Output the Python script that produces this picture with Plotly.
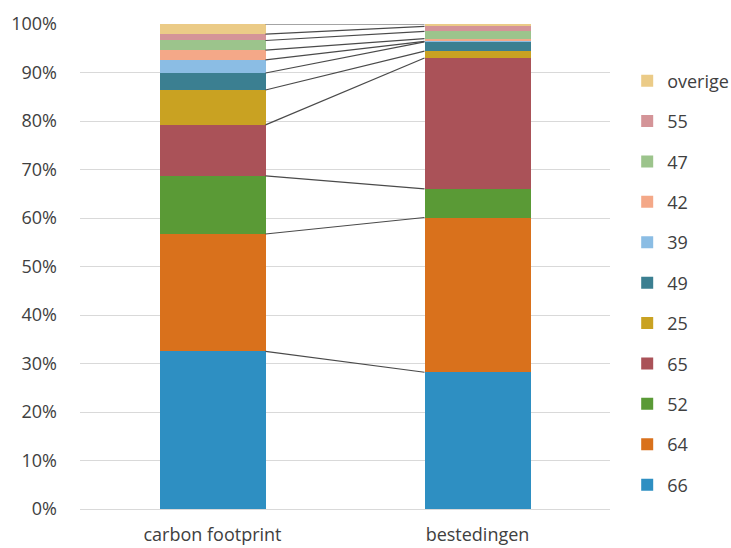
import numpy as np
import plotly.graph_objects as go

# Share of each group (percent) in the two totals
categories = ["carbon footprint", "bestedingen"]
groups = ["66", "64", "52", "65", "25", "49", "39", "42", "47", "55", "overige"]
carbon_footprint = [32.5, 24.2, 12.0, 10.5, 7.2, 3.5, 2.7, 2.0, 2.0, 1.3, 2.1]
bestedingen = [28.2, 31.9, 5.9, 27.0, 1.4, 1.9, 0.1, 0.6, 1.5, 1.0, 0.5]
colors = ["#2E8FC2", "#D9711C", "#5A9A36", "#AA5258", "#C9A222", "#3B7F91",
          "#8BBDE4", "#F4A888", "#9CC48C", "#D49498", "#EBCB87"]

bar_width = 0.4
xpos = np.arange(len(categories))
font_family = "'Open Sans', Lato, sans-serif"
text_color = "#404040"

fig = go.Figure()
for i, g in enumerate(groups):
    fig.add_trace(go.Bar(
        x=xpos,
        y=[carbon_footprint[i] / 100, bestedingen[i] / 100],
        name=g,
        marker=dict(color=colors[i], line=dict(width=0)),
        width=bar_width,
        legendgroup=g,
        legendrank=len(groups) - i,  # top segment listed first
    ))

# Series lines joining the top of each segment across the two bars
cum_left = np.cumsum(carbon_footprint) / 100
cum_right = np.cumsum(bestedingen) / 100
for yl, yr in zip(cum_left, cum_right):
    fig.add_trace(go.Scatter(
        x=[xpos[0] + bar_width / 2, xpos[1] - bar_width / 2],
        y=[yl, yr],
        mode="lines",
        line=dict(color="#4A4A4A", width=1.2),
        showlegend=False,
        hoverinfo="skip",
    ))

fig.update_layout(
    barmode="stack",
    width=731,
    height=548,
    margin=dict(l=80, r=121, t=24, b=39, autoexpand=False),
    plot_bgcolor="white",
    paper_bgcolor="white",
    font=dict(family=font_family, size=18, color=text_color),
    legend=dict(
        x=0.858, xanchor="left", xref="container",
        y=0.886, yanchor="top", yref="container",
        font=dict(size=18, color=text_color),
        traceorder="grouped",
        tracegroupgap=14,
        itemwidth=30,
        maxheight=520,
        bgcolor="rgba(0,0,0,0)",
    ),
    showlegend=True,
)
fig.update_xaxes(
    range=[-0.5, 1.5],
    tickmode="array",
    tickvals=xpos,
    ticktext=categories,
    showgrid=False,
    zeroline=False,
    showline=False,
    ticks="",
    ticklabelstandoff=13,
    automargin=False,
)
fig.update_yaxes(
    range=[0, 1],
    tickmode="linear",
    dtick=0.1,
    tickformat=".0%",
    showgrid=True,
    gridcolor="#D9D9D9",
    gridwidth=1,
    zeroline=True,
    zerolinecolor="#D9D9D9",
    zerolinewidth=1,
    showline=False,
    ticks="",
    ticklabelstandoff=22,
    automargin=False,
)

fig.write_html("out.html")
